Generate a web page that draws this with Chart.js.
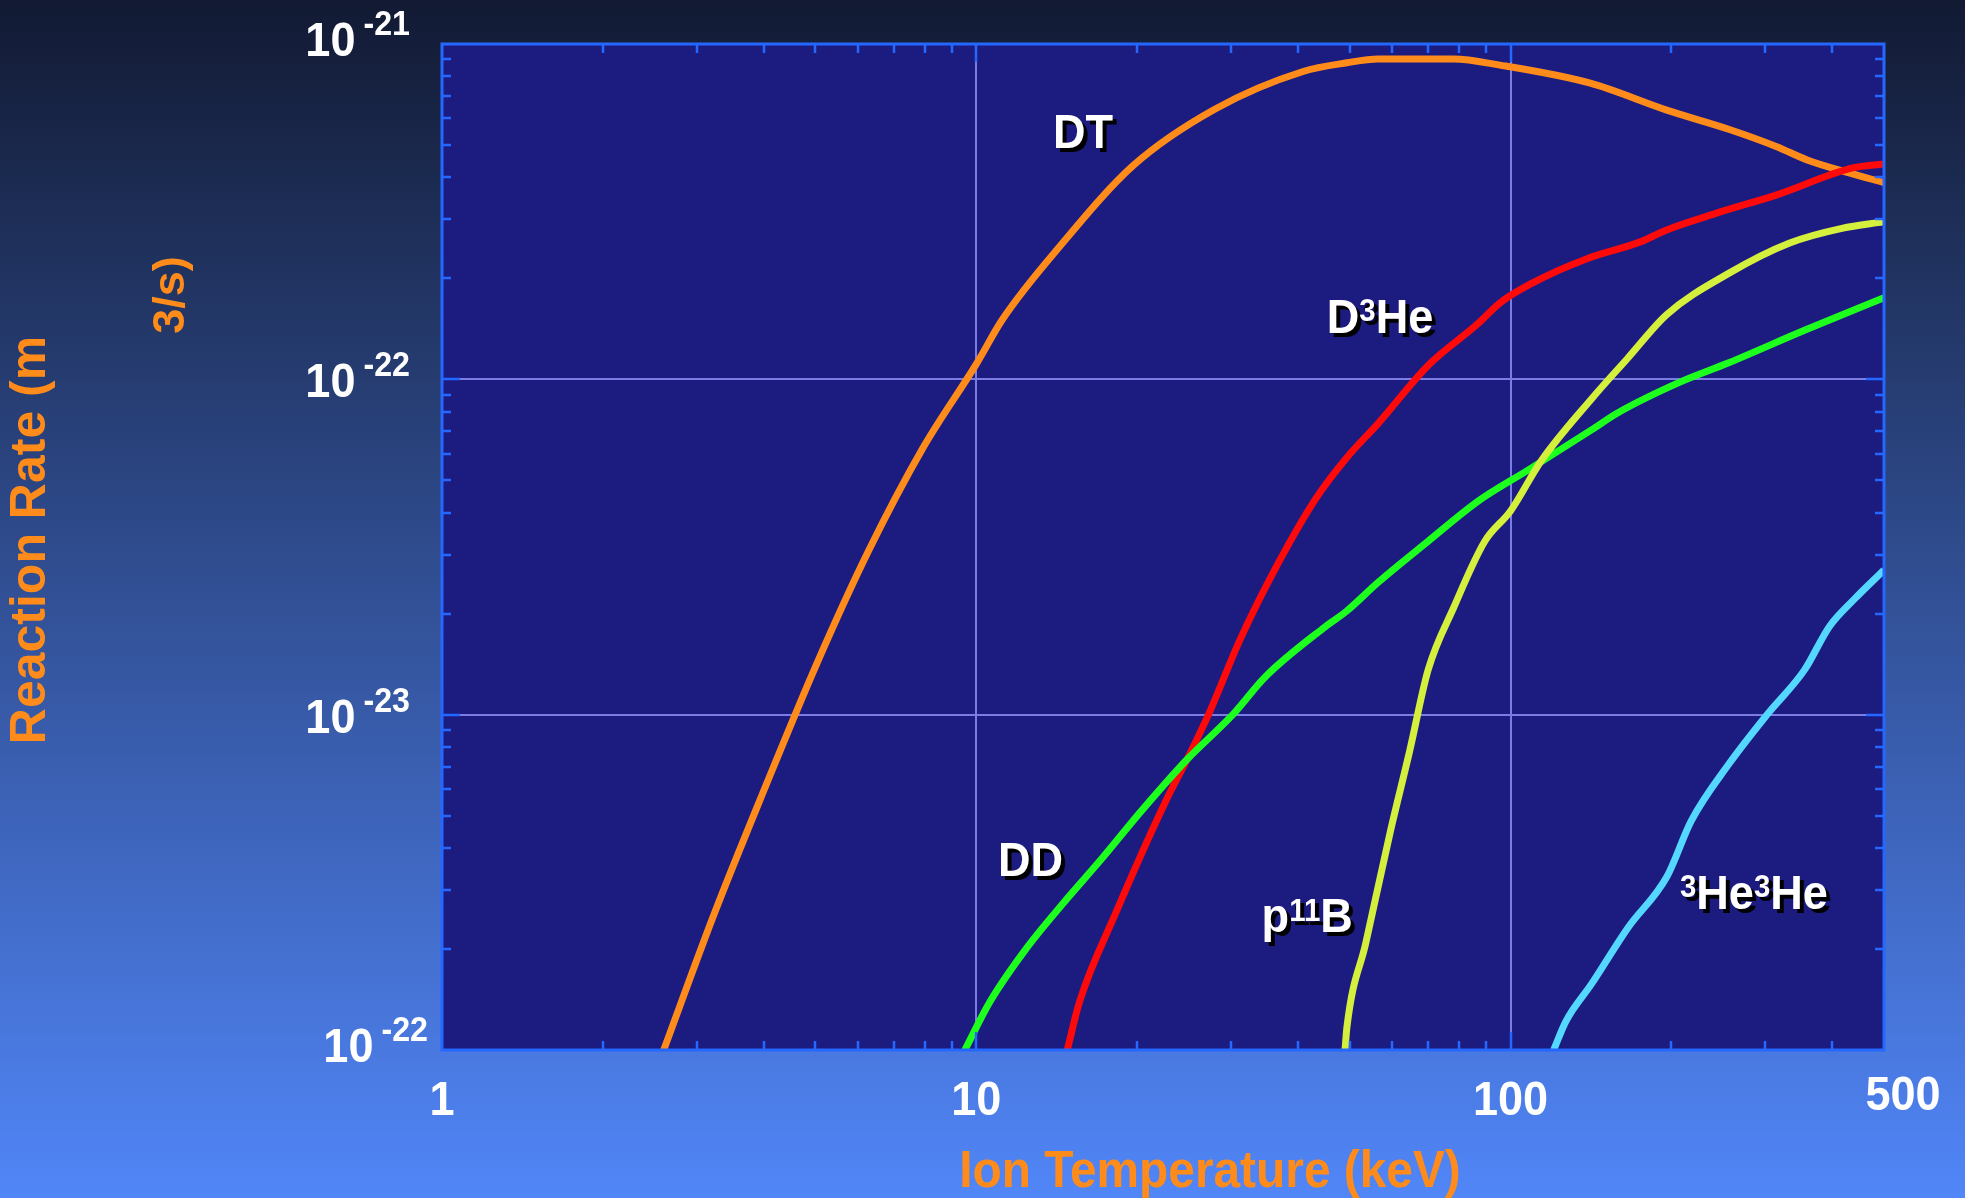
<!DOCTYPE html>
<html>
<head>
<meta charset="utf-8">
<title>Fusion reaction rates</title>
<script src="https://cdn.jsdelivr.net/npm/chart.js@4.4.1/dist/chart.umd.min.js"></script>
<style>
  html, body { margin: 0; padding: 0; width: 1965px; height: 1198px; overflow: hidden; background: #2a4690; }
  canvas { display: block; }
</style>
</head>
<body>
<canvas id="rates" width="1965" height="1198"></canvas>
<script>
// Reaction rate <σv> (m^3/s) against ion temperature (keV)
const dtT      = [2.6, 3.23, 4.01, 5.03, 6.28, 7.96, 10, 11.2, 14.3, 19.7, 28, 40.9, 49.4, 56.5, 78.2, 95.5, 141, 196, 256, 315, 359, 432, 500];
const dtRate   = [1.0e-24, 2.54e-24, 5.98e-24, 1.42e-23, 3.07e-23, 6.27e-23, 1.11e-22, 1.51e-22, 2.48e-22, 4.35e-22, 6.40e-22, 8.28e-22, 8.79e-22, 9.02e-22, 9.02e-22, 8.65e-22, 7.64e-22, 6.35e-22, 5.57e-22, 4.94e-22, 4.51e-22, 4.12e-22, 3.86e-22];

const dhe3T    = [14.8, 15.6, 18.2, 22.6, 24.8, 27.2, 31.2, 36.7, 43.2, 49.4, 56.5, 70.1, 87.1, 95.5, 110, 139, 175, 196, 243, 315, 437, 500];
const dhe3Rate = [1.0e-24, 1.39e-24, 2.54e-24, 5.50e-24, 7.35e-24, 1.0e-23, 1.68e-23, 2.82e-23, 4.41e-23, 5.85e-23, 7.38e-23, 1.10e-22, 1.47e-22, 1.69e-22, 1.94e-22, 2.29e-22, 2.57e-22, 2.79e-22, 3.13e-22, 3.55e-22, 4.27e-22, 4.39e-22];

const ddT      = [9.52, 10.6, 12.5, 14.6, 17.2, 20.3, 24.8, 30.2, 34.8, 45, 49.4, 56.5, 70.1, 87.1, 108, 142, 158, 207, 256, 355, 500];
const ddRate   = [1.0e-24, 1.39e-24, 2.04e-24, 2.76e-24, 3.73e-24, 5.13e-24, 7.35e-24, 1.0e-23, 1.30e-23, 1.83e-23, 2.04e-23, 2.48e-23, 3.29e-23, 4.34e-23, 5.37e-23, 7.08e-23, 7.91e-23, 9.79e-23, 1.12e-22, 1.40e-22, 1.75e-22];

const pbT      = [49.0, 49.4, 53.6, 59.7, 64.7, 70.1, 78.2, 89.5, 100, 114, 142, 166, 196, 256, 333, 417, 500];
const pbRate   = [1.0e-24, 1.17e-24, 2.09e-24, 4.55e-24, 7.76e-24, 1.36e-23, 2.08e-23, 3.29e-23, 4.05e-23, 5.70e-23, 8.77e-23, 1.16e-22, 1.56e-22, 2.07e-22, 2.55e-22, 2.82e-22, 2.95e-22];

const heheT    = [120.4, 127, 142, 166, 196, 218, 256, 302, 355, 395, 440, 500];
const heheRate = [1.0e-24, 1.22e-24, 1.58e-24, 2.32e-24, 3.28e-24, 4.83e-24, 7.11e-24, 1.0e-23, 1.36e-23, 1.83e-23, 2.21e-23, 2.70e-23];

// Axis tick labels
const xTickValues    = [1, 10, 100, 500];
const xTickLabels    = ['1', '10', '100', '500'];
const yTickValues    = [1e-24, 1e-23, 1e-22, 1e-21];
const yTickBase      = '10';
const yTickExponents = ['-22', '-23', '-22', '-21'];

// Curve names, written as [text, isSuperscript] runs, with the point where each name sits
const curveNames = [
  { runs: [['DT', false]],                              T: 13.92, rate: 4.9e-22 },
  { runs: [['D', false], ['3', true], ['He', false]],   T: 45.3,  rate: 1.377e-22 },
  { runs: [['DD', false]],                              T: 10.98, rate: 3.31e-24 },
  { runs: [['p', false], ['11', true], ['B', false]],   T: 34.2,  rate: 2.25e-24 },
  { runs: [['3', true], ['He', false], ['3', true], ['He', false]], T: 207.5, rate: 2.64e-24 }
];

const toPoints = (xs, ys) => xs.map((x, i) => ({ x: x, y: ys[i] }));

const FONT = '"Liberation Sans", Arial, sans-serif';
const ORANGE = '#ff8c1a';
const SQUEEZE = 0.92;   // slightly condensed lettering

function lineSet(label, xs, ys, color, order) {
  return {
    label: label,
    data: toPoints(xs, ys),
    borderColor: color,
    borderWidth: 7,
    pointRadius: 0,
    fill: false,
    cubicInterpolationMode: 'monotone',
    clip: 0,
    order: order
  };
}

// draws runs of normal / superscript text starting at (x, y) on the baseline
function drawRuns(ctx, runs, x, y, size, color) {
  ctx.save();
  ctx.translate(x, y);
  ctx.scale(SQUEEZE, 1);
  ctx.fillStyle = color;
  let cx = 0;
  for (const [text, sup] of runs) {
    if (sup) {
      ctx.font = 'bold ' + Math.round(size * 0.66) + 'px ' + FONT;
      ctx.fillText(text, cx, -size * 0.23);
    } else {
      ctx.font = 'bold ' + size + 'px ' + FONT;
      ctx.fillText(text, cx, 0);
    }
    cx += ctx.measureText(text).width;
  }
  ctx.restore();
}

function squeezedText(ctx, text, x, y, font, align) {
  ctx.save();
  ctx.font = font;
  const w = ctx.measureText(text).width * SQUEEZE;
  let left = x;
  if (align === 'center') left = x - w / 2;
  else if (align === 'right') left = x - w;
  ctx.translate(left, y);
  ctx.scale(SQUEEZE, 1);
  ctx.textAlign = 'left';
  ctx.fillText(text, 0, 0);
  ctx.restore();
  return w;
}

const framePlugin = {
  id: 'frame',
  beforeDraw(chart) {
    const { ctx, width, height, chartArea: a } = chart;
    const xs = chart.scales.x, ys = chart.scales.y;
    ctx.save();
    const g = ctx.createLinearGradient(0, 0, 0, height);
    g.addColorStop(0, '#121a33');
    g.addColorStop(1, '#5186f8');
    ctx.fillStyle = g;
    ctx.fillRect(0, 0, width, height);

    ctx.fillStyle = '#1c1b80';
    ctx.fillRect(a.left, a.top, a.right - a.left, a.bottom - a.top);

    // grid lines at whole decades
    ctx.strokeStyle = '#7b7de4';
    ctx.lineWidth = 2;
    ctx.beginPath();
    for (const v of xTickValues) {
      if (v > xs.min && v < xs.max) {
        const px = Math.round(xs.getPixelForValue(v));
        ctx.moveTo(px, a.top); ctx.lineTo(px, a.bottom);
      }
    }
    for (const v of yTickValues) {
      if (v > ys.min && v < ys.max) {
        const py = Math.round(ys.getPixelForValue(v));
        ctx.moveTo(a.left, py); ctx.lineTo(a.right, py);
      }
    }
    ctx.stroke();
    ctx.restore();
  },
  afterDatasetsDraw(chart) {
    const { ctx, chartArea: a } = chart;
    const xs = chart.scales.x, ys = chart.scales.y;
    ctx.save();

    // inward tick marks on all four sides
    ctx.strokeStyle = '#2468ff';
    ctx.lineWidth = 2.5;
    ctx.beginPath();
    const xTick = (v, len) => {
      const px = Math.round(xs.getPixelForValue(v));
      ctx.moveTo(px, a.bottom); ctx.lineTo(px, a.bottom - len);
      ctx.moveTo(px, a.top); ctx.lineTo(px, a.top + len);
    };
    const yTick = (v, len) => {
      const py = Math.round(ys.getPixelForValue(v));
      ctx.moveTo(a.left, py); ctx.lineTo(a.left + len, py);
      ctx.moveTo(a.right, py); ctx.lineTo(a.right - len, py);
    };
    for (const d of [1, 10, 100]) {
      for (let m = 2; m <= 9; m++) {
        if (m * d < xs.max) xTick(m * d, 9);
      }
      if (d > 1) xTick(d, 18);
    }
    for (const e of [-24, -23, -22]) {
      for (let m = 2; m <= 9; m++) yTick(m * Math.pow(10, e), 9);
      if (e > -24) yTick(Math.pow(10, e), 18);
    }
    ctx.stroke();

    // plot frame
    ctx.lineWidth = 3;
    ctx.strokeRect(a.left, a.top, a.right - a.left, a.bottom - a.top);

    // y tick labels: 10 with a raised exponent
    ctx.textBaseline = 'alphabetic';
    ctx.fillStyle = '#ffffff';
    const baseFont = 'bold 49px ' + FONT;
    const expFont = 'bold 35px ' + FONT;
    const yShift = [[18, -6], [0, 0], [0, 0], [0, -6]];
    yTickValues.forEach((v, i) => {
      const py = ys.getPixelForValue(v);
      const base = py + 18 + yShift[i][1];
      const right = a.left - 32 + yShift[i][0];
      const ew = squeezedText(ctx, yTickExponents[i], right, base - 21, expFont, 'right');
      squeezedText(ctx, yTickBase, right - ew - 8, base, baseFont, 'right');
    });

    // x tick labels
    xTickValues.forEach((v, i) => {
      const px = xs.getPixelForValue(v);
      const last = i === xTickValues.length - 1;
      squeezedText(ctx, xTickLabels[i], px + (last ? 19 : 0), a.bottom + (last ? 60 : 65), baseFont, 'center');
    });

    // curve names with a dark drop shadow
    for (const c of curveNames) {
      const px = xs.getPixelForValue(c.T);
      const py = ys.getPixelForValue(c.rate);
      drawRuns(ctx, c.runs, px + 4, py + 4, 49, '#000000');
      drawRuns(ctx, c.runs, px, py, 49, '#ffffff');
    }

    // axis titles
    ctx.fillStyle = ORANGE;
    squeezedText(ctx, 'Ion Temperature (keV)', 1210, 1187, 'bold 52px ' + FONT, 'center');

    ctx.save();
    ctx.translate(31, 540);
    ctx.rotate(-Math.PI / 2);
    ctx.textBaseline = 'middle';
    ctx.textAlign = 'center';
    ctx.font = 'bold 50px ' + FONT;
    ctx.fillText('Reaction Rate (m', 0, 0);
    ctx.restore();

    ctx.save();
    ctx.translate(172, 295);
    ctx.rotate(-Math.PI / 2);
    ctx.textBaseline = 'middle';
    ctx.textAlign = 'center';
    ctx.font = 'bold 45px ' + FONT;
    ctx.fillText('3/s)', 0, 0);
    ctx.restore();

    ctx.restore();
  }
};

new Chart(document.getElementById('rates'), {
  type: 'line',
  data: {
    datasets: [
      lineSet('DT',     dtT,   dtRate,   '#ff8c1a', 4),
      lineSet('D3He',   dhe3T, dhe3Rate, '#ff0a0a', 3),
      lineSet('DD',     ddT,   ddRate,   '#1dff1d', 2),
      lineSet('p11B',   pbT,   pbRate,   '#d4f03c', 1),
      lineSet('3He3He', heheT, heheRate, '#55d8ff', 0)
    ]
  },
  options: {
    responsive: false,
    animation: false,
    events: [],
    layout: { padding: { left: 442, top: 44, right: 81, bottom: 148 } },
    plugins: { legend: { display: false }, tooltip: { enabled: false } },
    scales: {
      x: { type: 'logarithmic', min: 1, max: 500, display: false },
      y: { type: 'logarithmic', min: 1e-24, max: 1e-21, display: false }
    }
  },
  plugins: [framePlugin]
});
</script>
</body>
</html>
